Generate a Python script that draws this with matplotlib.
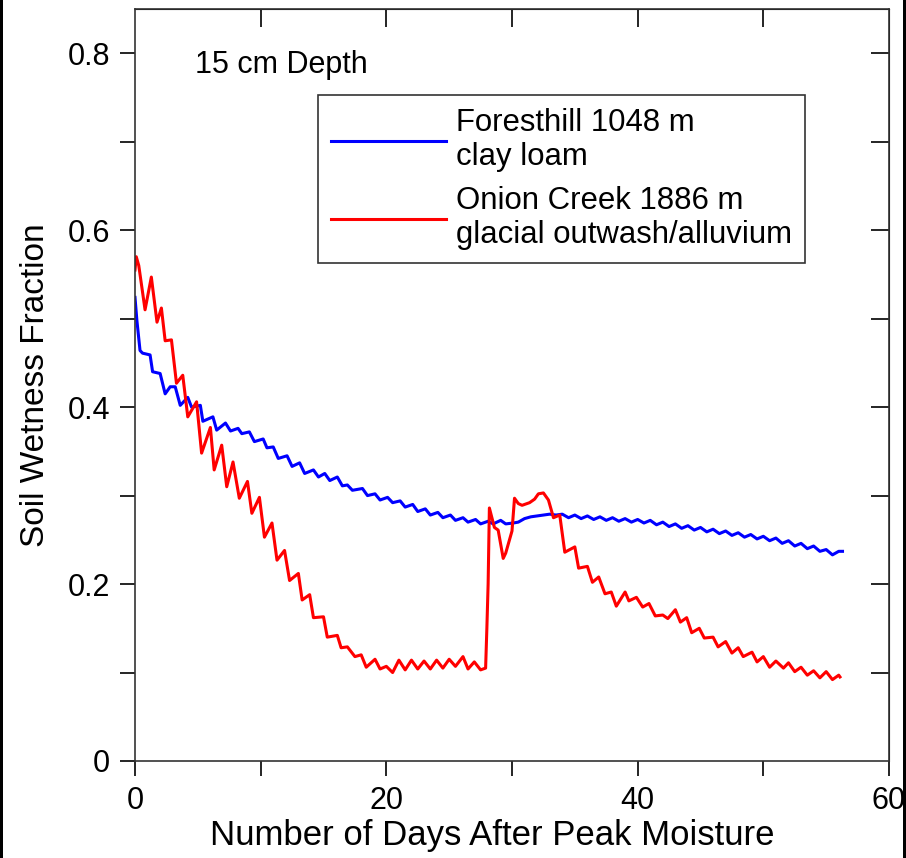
import matplotlib
matplotlib.use("Agg")
import matplotlib.pyplot as plt
from matplotlib.ticker import MultipleLocator
from matplotlib.patches import Rectangle

plt.rcParams['font.family'] = ['Liberation Sans', 'DejaVu Sans']

# Foresthill 1048 m, clay loam (blue)
blue_days = [0.0, 0.15, 0.4, 0.6, 1.2, 1.4, 2.0, 2.4, 2.8, 3.2, 3.6, 4.2, 4.5, 5.2, 5.4,
             6.2, 6.5, 7.2, 7.6, 8.2, 8.5, 9.1, 9.5, 10.2, 10.5, 11.0, 11.4, 12.1, 12.5,
             13.1, 13.5, 14.2, 14.6, 15.1, 15.5, 16.1, 16.5, 16.9, 17.3, 18.1, 18.5,
             19.1, 19.5, 20.1, 20.5, 21.1, 21.5, 22.1, 22.5, 23.1, 23.5, 24.1, 24.5,
             25.1, 25.5, 26.1, 26.5, 27.1, 27.5, 28.1, 28.5, 29.1, 29.5, 30.1, 30.5,
             31.0, 31.5, 32.0, 32.5, 33.0, 33.5, 34.0, 34.5, 35.0, 35.5, 36.0, 36.5,
             37.0, 37.5, 38.0, 38.5, 39.0, 39.5, 40.0, 40.5, 41.0, 41.5, 42.0, 42.5,
             43.0, 43.5, 44.0, 44.5, 45.0, 45.5, 46.0, 46.5, 47.0, 47.5, 48.0, 48.5,
             49.0, 49.5, 50.0, 50.5, 51.0, 51.5, 52.0, 52.5, 53.0, 53.5, 54.0, 54.5,
             55.0, 55.5, 56.0, 56.3]
blue_vals = [0.524, 0.498, 0.464, 0.461, 0.459, 0.440, 0.438, 0.415, 0.423, 0.423, 0.402,
             0.411, 0.400, 0.402, 0.384, 0.389, 0.374, 0.382, 0.373, 0.376, 0.370, 0.372,
             0.361, 0.364, 0.354, 0.355, 0.342, 0.345, 0.333, 0.337, 0.325, 0.329, 0.321,
             0.325, 0.317, 0.321, 0.311, 0.312, 0.306, 0.308, 0.300, 0.302, 0.295, 0.298,
             0.292, 0.294, 0.287, 0.290, 0.282, 0.285, 0.278, 0.281, 0.275, 0.278, 0.272,
             0.275, 0.270, 0.273, 0.268, 0.271, 0.268, 0.272, 0.268, 0.269, 0.270, 0.274,
             0.276, 0.277, 0.278, 0.279, 0.278, 0.279, 0.275, 0.278, 0.274, 0.277, 0.273,
             0.276, 0.272, 0.275, 0.271, 0.274, 0.270, 0.273, 0.269, 0.272, 0.267, 0.270,
             0.265, 0.268, 0.263, 0.266, 0.261, 0.264, 0.259, 0.262, 0.257, 0.260, 0.255,
             0.258, 0.253, 0.256, 0.251, 0.254, 0.249, 0.252, 0.246, 0.249, 0.243, 0.246,
             0.240, 0.243, 0.237, 0.239, 0.233, 0.237, 0.237]

# Onion Creek 1886 m, glacial outwash/alluvium (red)
red_days = [0.0, 0.1, 0.3, 0.8, 1.3, 1.75, 2.1, 2.4, 2.9, 3.3, 3.8, 4.2, 4.9, 5.3, 6.0,
            6.3, 6.9, 7.3, 7.8, 8.3, 8.95, 9.3, 9.9, 10.3, 10.9, 11.3, 11.9, 12.3, 13.0,
            13.3, 13.9, 14.2, 15.0, 15.3, 16.1, 16.4, 16.9, 17.5, 18.0, 18.4, 19.1, 19.5,
            20.0, 20.5, 21.0, 21.5, 22.0, 22.5, 23.0, 23.5, 24.0, 24.5, 25.0, 25.5, 26.1,
            26.5, 27.0, 27.5, 27.9, 28.0, 28.1, 28.2, 28.6, 28.9, 29.3, 29.5, 30.0, 30.2,
            30.5, 30.8, 31.4, 31.8, 32.1, 32.5, 32.9, 33.3, 33.8, 34.2, 35.0, 35.3, 36.0,
            36.4, 36.9, 37.4, 37.9, 38.3, 39.0, 39.3, 39.9, 40.4, 40.9, 41.4, 42.0, 42.4,
            43.0, 43.4, 43.9, 44.3, 44.9, 45.3, 46.0, 46.4, 47.0, 47.5, 48.0, 48.4, 49.1,
            49.5, 50.0, 50.5, 51.0, 51.6, 52.0, 52.5, 53.0, 53.5, 54.0, 54.5, 55.0, 55.5,
            56.0, 56.1]
red_vals = [0.555, 0.570, 0.560, 0.510, 0.547, 0.496, 0.512, 0.475, 0.476, 0.427, 0.436,
            0.389, 0.406, 0.348, 0.377, 0.329, 0.357, 0.310, 0.338, 0.297, 0.316, 0.280,
            0.298, 0.253, 0.269, 0.227, 0.238, 0.204, 0.212, 0.182, 0.188, 0.162, 0.163,
            0.140, 0.142, 0.128, 0.129, 0.118, 0.120, 0.106, 0.115, 0.104, 0.107, 0.100,
            0.114, 0.103, 0.114, 0.104, 0.113, 0.104, 0.114, 0.105, 0.115, 0.107, 0.118,
            0.104, 0.112, 0.103, 0.105, 0.150, 0.200, 0.286, 0.264, 0.261, 0.229, 0.235,
            0.260, 0.297, 0.291, 0.289, 0.292, 0.296, 0.302, 0.303, 0.295, 0.275, 0.278,
            0.236, 0.242, 0.218, 0.220, 0.202, 0.208, 0.189, 0.191, 0.175, 0.191, 0.181,
            0.185, 0.174, 0.178, 0.164, 0.165, 0.161, 0.171, 0.157, 0.162, 0.145, 0.150,
            0.139, 0.140, 0.129, 0.135, 0.122, 0.128, 0.118, 0.123, 0.112, 0.118, 0.106,
            0.113, 0.105, 0.111, 0.101, 0.106, 0.097, 0.102, 0.094, 0.101, 0.092, 0.097,
            0.095]

labels = ["Foresthill 1048 m\nclay loam", "Onion Creek 1886 m\nglacial outwash/alluvium"]
xticks = [0, 20, 40, 60]
yticks = [0, 0.2, 0.4, 0.6, 0.8]
ytick_labels = ["0", "0.2", "0.4", "0.6", "0.8"]

fig = plt.figure(figsize=(9.06, 8.58), dpi=100)
ax = fig.add_axes([135/906, 1-761/858, 754/906, 752/858])

ax.plot(blue_days, blue_vals, color='#0000ff', lw=2.2, label=labels[0])
ax.plot(red_days, red_vals, color='#ff0000', lw=2.2, label=labels[1])

ax.set_xlim(0, 60)
ax.set_ylim(0, 0.85)
ax.set_xticks(xticks)
ax.set_yticks(yticks)
ax.set_yticklabels(ytick_labels)
ax.xaxis.set_minor_locator(MultipleLocator(10))
ax.yaxis.set_minor_locator(MultipleLocator(0.1))
ax.tick_params(axis='both', which='both', direction='out', length=11, width=1.2,
               labelsize=22, colors='black', pad=7)
ax.tick_params(axis='both', which='both', top=False, right=False)
for s in ax.spines.values():
    s.set_linewidth(1.2)
    s.set_color('#333333')

# inward ticks on top and right
ax2 = ax.secondary_xaxis('top')
ax2.set_xticks([10, 20, 30, 40, 50])
ax2.tick_params(direction='in', length=13, width=1.2, labeltop=False)
ax3 = ax.secondary_yaxis('right')
ax3.set_yticks([0.1, 0.2, 0.3, 0.4, 0.5, 0.6, 0.7, 0.8])
ax3.tick_params(direction='in', length=13, width=1.2, labelright=False)

ax.set_xlabel("Number of Days After Peak Moisture", fontsize=25)
ax.xaxis.set_label_coords((492-135)/754, -(836-761)/752)
ax.xaxis.label.set_va('center')
ax.set_ylabel("Soil Wetness Fraction", fontsize=24, labelpad=12)

ax.text(0.08, 0.925, "15 cm Depth", transform=ax.transAxes, fontsize=22,
        va='center', ha='left')

leg = ax.legend(loc='upper left', bbox_to_anchor=((318-135)/754, 1-(95-9)/752),
                fontsize=22.4, frameon=True, fancybox=False, edgecolor='black',
                handlelength=3.7, handletextpad=0.3, borderpad=0.42,
                labelspacing=0.45, borderaxespad=0)
leg.get_frame().set_linewidth(1.2)
for t in leg.get_texts():
    t.set_linespacing(1.17)

# dark strips at the left and right edges of the image
fig.patches.append(Rectangle((0, 0), 3/906, 1, transform=fig.transFigure,
                             facecolor='black', edgecolor='none'))
fig.patches.append(Rectangle((1-3/906, 0), 3/906, 1, transform=fig.transFigure,
                             facecolor='black', edgecolor='none'))

fig.savefig("out.png", dpi=100)
